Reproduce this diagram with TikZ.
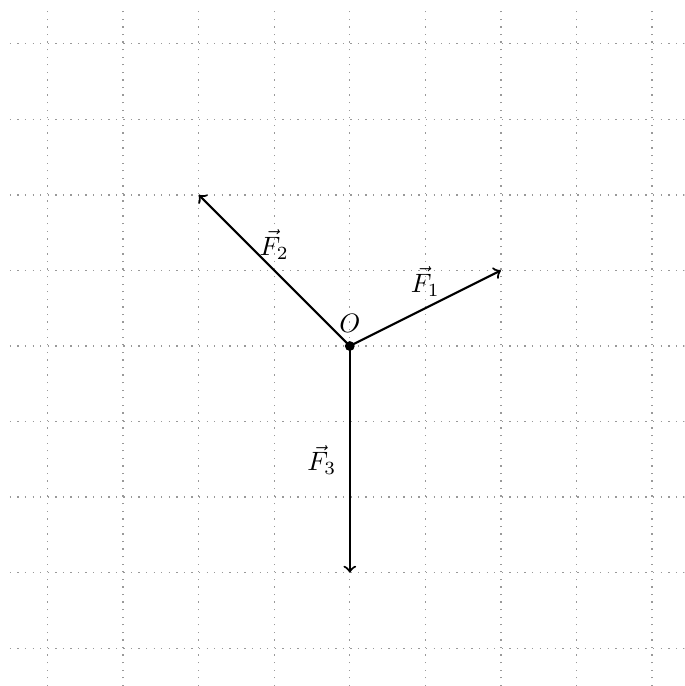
\documentclass[tikz,border=0pt]{standalone}
\begin{document}
\begin{tikzpicture}[thick]
    % Frame and grid
    \useasboundingbox (-4.63,-4.5) rectangle (4.43,4.58);
    \clip (-4.63,-4.5) rectangle (4.43,4.58);
    \draw[gray!80, line width=0.5pt, dash pattern=on 0.5pt off 2.35pt] (-4.5,-4.5) grid (4.5,4.5);

    % Points
    \coordinate (O) at (0,0);
    \coordinate (e1) at (2,1);
    \coordinate (e2) at (-2,2);
    \coordinate (e3) at (0,-3);
    \fill (O) circle (0.065);
    \node (o) at (0,0.3) {$O$};

    % Vectors
    \draw[->] (O) -- (e1);
    \draw[->] (O) -- (e2);
    \draw[->] (O) -- (e3);
    \node (f1) at (1,0.85) {$\vec{F}_1$};
    \node (f2) at (-1,1.34) {$\vec{F}_2$};
    \node (f3) at (-0.37,-1.51) {$\vec{F}_3$};
\end{tikzpicture}
\end{document}
